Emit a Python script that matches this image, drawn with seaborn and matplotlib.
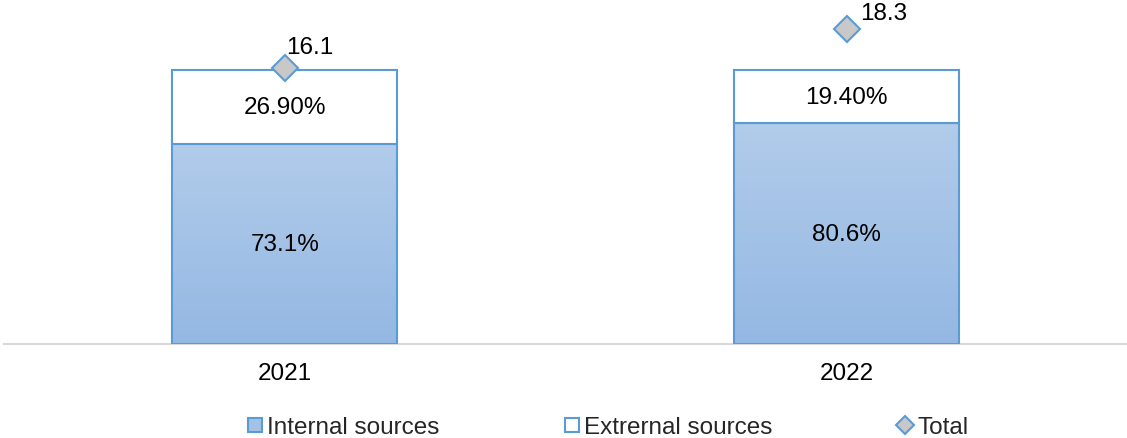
import numpy as np
import pandas as pd
import matplotlib
matplotlib.use("Agg")
import matplotlib.pyplot as plt
from matplotlib.lines import Line2D
import seaborn as sns

# Funding structure by year
years = ["2021", "2022"]
internal_pct = [73.1, 80.6]
external_pct = [26.9, 19.4]
totals = [16.1, 18.3]
internal_labels = ["73.1%", "80.6%"]
external_labels = ["26.90%", "19.40%"]
total_labels = ["16.1", "18.3"]

sns.set_theme(style="white")
plt.rcParams["font.family"] = ["Liberation Sans", "DejaVu Sans"]

EDGE = "#5b9bd5"
TOP_BLUE = np.array([178, 204, 234]) / 255
BOT_BLUE = np.array([148, 184, 227]) / 255
FS = 17.5

df = pd.DataFrame({"year": years, "internal": internal_pct,
                   "external": external_pct})

fig = plt.figure(figsize=(11.27, 4.39), dpi=100)
ax = fig.add_axes([0.0035, 1 - 345 / 439, 0.997, 340 / 439])

sns.barplot(data=df, x="year", y="internal", ax=ax, width=0.4,
            facecolor="none", edgecolor=EDGE, linewidth=1.5, zorder=3)
sns.barplot(data=df, x="year", y="external", ax=ax, width=0.4,
            bottom=df["internal"], color="white", edgecolor=EDGE,
            linewidth=1.5, zorder=3)

# vertical gradient inside the internal-source bars
grad = np.linspace(0, 1, 256)[:, None, None]
grad_img = TOP_BLUE * (1 - grad) + BOT_BLUE * grad
for p in ax.patches[:len(years)]:
    x0, y0 = p.get_x(), p.get_y()
    w, h = p.get_width(), p.get_height()
    im = ax.imshow(grad_img, extent=[x0, x0 + w, y0, y0 + h],
                   aspect="auto", origin="upper", zorder=2)
    im.set_clip_path(p)

ax.set_xlim(-0.5, 1.5)
ax.set_ylim(0, 124.1)

for i in range(len(years)):
    ax.text(i, internal_pct[i] / 2, internal_labels[i], ha="center",
            va="center", fontsize=FS, color="black", zorder=5)
    ax.text(i, internal_pct[i] + external_pct[i] / 2, external_labels[i],
            ha="center", va="center", fontsize=FS, color="black", zorder=5)

ax.set_xlabel("")
ax.set_ylabel("")
ax.set_yticks([])
ax.tick_params(axis="x", length=0, labelsize=FS, pad=13, colors="black")
for s in ["top", "left", "right"]:
    ax.spines[s].set_visible(False)
ax.spines["bottom"].set_color("#d9d9d9")
ax.spines["bottom"].set_linewidth(1.5)

# totals on a secondary axis
ax2 = ax.twinx()
pos = list(range(len(years)))
ax2.plot(pos, totals, linestyle="none", marker="D", markersize=13,
         markerfacecolor="#c8c8c8", markeredgecolor=EDGE,
         markeredgewidth=1.5, zorder=6)
ax2.set_ylim(0.53, 19.71)
ax2.set_yticks([])
for s in ["top", "left", "right", "bottom"]:
    ax2.spines[s].set_visible(False)

offsets = [(25, 21), (37, 16)]
for i in pos:
    ax2.annotate(total_labels[i], (i, totals[i]), xytext=offsets[i],
                 textcoords="offset pixels", ha="center", va="center",
                 fontsize=FS, color="black")

handles = [
    Line2D([], [], linestyle="none", marker="s", markersize=10.5,
           markerfacecolor="#a4c2e6", markeredgecolor=EDGE, markeredgewidth=1.5),
    Line2D([], [], linestyle="none", marker="s", markersize=10.5,
           markerfacecolor="white", markeredgecolor=EDGE, markeredgewidth=1.5),
    Line2D([], [], linestyle="none", marker="D", markersize=9,
           markerfacecolor="#c8c8c8", markeredgecolor=EDGE, markeredgewidth=1.5),
]
fig.legend(handles, ["Internal sources", "Extrernal sources", "Total"],
           loc="center", bbox_to_anchor=(0.539, 1 - 428 / 439), ncol=3,
           frameon=False, fontsize=FS, handlelength=0.7,
           handletextpad=0.15, columnspacing=5.1, borderpad=0)

fig.savefig("out.png", dpi=100)
